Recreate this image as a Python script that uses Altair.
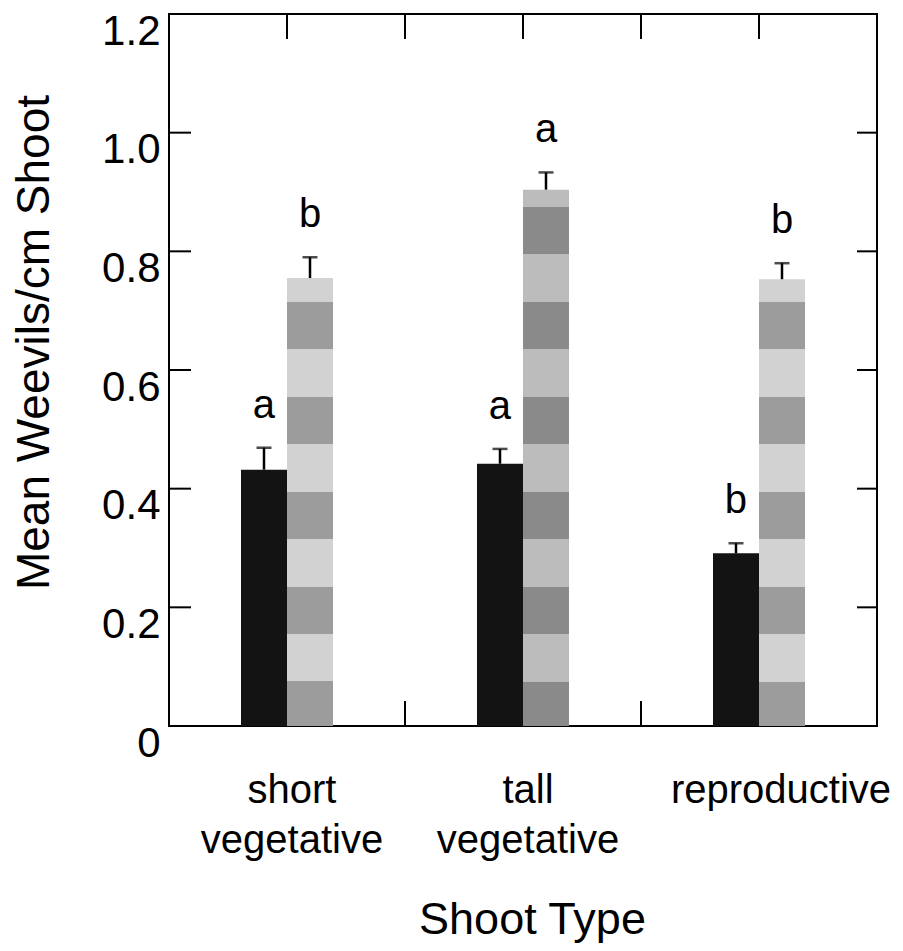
import altair as alt
import pandas as pd

# ---- data ----
categories = ["short vegetative", "tall vegetative", "reproductive"]
groups = ["black", "grey"]
black_means = [0.432, 0.442, 0.291]
black_upper = [0.469, 0.467, 0.308]
grey_means = [0.755, 0.904, 0.753]
grey_upper = [0.790, 0.933, 0.780]
black_letters = ["a", "a", "b"]
grey_letters = ["b", "a", "b"]
y_ticks = [0.2, 0.4, 0.6, 0.8, 1.0]
y_labels = [0, 0.2, 0.4, 0.6, 0.8, 1.0, 1.2]

# ---- style ----
FONT = "Liberation Sans"
W, H = 708, 712
# stripe pattern of the grey bars (value units of the dark bands)
DARK_BANDS = [(0.0, 0.075), (0.155, 0.235), (0.315, 0.395), (0.475, 0.555),
              (0.635, 0.715), (0.795, 0.875)]
GREY_COLORS = {
    "short vegetative": ("#d2d2d2", "#9c9c9c"),
    "tall vegetative": ("#bcbcbc", "#8a8a8a"),
    "reproductive": ("#d2d2d2", "#9c9c9c"),
}

rows = []
for i, c in enumerate(categories):
    rows.append(dict(cat=c, group="black", mean=black_means[i],
                     upper=black_upper[i], letter=black_letters[i]))
    rows.append(dict(cat=c, group="grey", mean=grey_means[i],
                     upper=grey_upper[i], letter=grey_letters[i]))
df = pd.DataFrame(rows)
cat_df = pd.DataFrame({"cat": categories})
tick_df = pd.DataFrame({"v": y_ticks})

x_scale = alt.Scale(domain=categories, paddingInner=0, paddingOuter=0)
# empty side slots keep the two bars adjacent and narrow in the middle of each band
xo_scale = alt.Scale(domain=["_l"] + groups + ["_r"], paddingInner=0, paddingOuter=0.565)
y_scale = alt.Scale(domain=[0, 1.2], nice=False, zero=True)

x_axis = alt.Axis(title="Shoot Type", labelAngle=0, labelLimit=0,
                  labelExpr="datum.label == 'reproductive' ? datum.label : split(datum.label, ' ')",
                  labelOffset={"condition": {"test": "datum.value == 'reproductive'", "value": 22},
                               "value": 5},
                  labelFont=FONT, labelFontSize=40, labelColor="black",
                  labelBaseline="top", labelLineHeight=50, labelPadding=44,
                  ticks=False, domain=False, grid=False,
                  titleFont=FONT, titleFontSize=45, titleFontWeight="normal",
                  titleColor="black", titleBaseline="alphabetic", titleLimit=0,
                  titleY=207, titleX=363, titleAlign="center")
y_axis = alt.Axis(title="Mean Weevils/cm Shoot", values=y_labels, labelLimit=0,
                  labelExpr="datum.value == 0 ? '0' : format(datum.value, '.1f')",
                  labelFont=FONT, labelFontSize=42, labelColor="black",
                  labelPadding=9, labelOffset=17, ticks=False, domain=False,
                  grid=False,
                  titleFont=FONT, titleFontSize=46, titleFontWeight="normal",
                  titleColor="black", titleBaseline="alphabetic", titleLimit=0,
                  titleAngle=270, titleX=-121, titleY=328, titleAlign="center")


def X(**kw):
    return alt.X("cat:N", scale=x_scale, sort=categories, axis=x_axis, **kw)


def Y(field):
    return alt.Y(field, scale=y_scale, axis=y_axis)


xo_enc = alt.XOffset("group:N", scale=xo_scale)

base = alt.Chart(df)

black_bars = base.transform_filter(alt.datum.group == "black").mark_bar(
    color="#131313").encode(x=X(), xOffset=xo_enc, y=Y("mean:Q"))


def stripe_gradient(mean, light, dark):
    def color_at(v):
        for lo, hi in DARK_BANDS:
            if lo <= v < hi:
                return dark
        return light
    bounds = sorted({b for band in DARK_BANDS for b in band if 0 < b < mean}, reverse=True)
    stops = [alt.GradientStop(color=color_at(mean - 1e-6), offset=0)]
    for b in bounds:
        t = 1 - b / mean
        stops.append(alt.GradientStop(color=color_at(b + 1e-6), offset=t))
        stops.append(alt.GradientStop(color=color_at(b - 1e-6), offset=t))
    stops.append(alt.GradientStop(color=color_at(1e-6), offset=1))
    return alt.Gradient(gradient="linear", stops=stops, x1=0, x2=0, y1=0, y2=1)


grey_layers = []
for i, c in enumerate(categories):
    light, dark = GREY_COLORS[c]
    grey_layers.append(
        base.transform_filter((alt.datum.group == "grey") & (alt.datum.cat == c))
        .mark_bar(color=stripe_gradient(grey_means[i], light, dark))
        .encode(x=X(), xOffset=xo_enc, y=Y("mean:Q"))
    )

err_rules = base.mark_rule(color="black", strokeWidth=2.5).encode(
    x=X(), xOffset=xo_enc, y=Y("mean:Q"), y2="upper:Q")
err_caps = base.mark_tick(color="black", size=15, thickness=2.5, orient="horizontal").encode(
    x=X(), xOffset=xo_enc, y=Y("upper:Q"))
letters = base.mark_text(font=FONT, fontSize=40, color="black", dy=-30,
                         baseline="alphabetic").encode(
    x=X(), xOffset=xo_enc, y=Y("upper:Q"), text="letter:N")

# inward tick marks on the frame
left_ticks = alt.Chart(tick_df).mark_rule(color="black", strokeWidth=2).encode(
    y=Y("v:Q"), x=alt.value(0), x2=alt.value(22))
right_ticks = alt.Chart(tick_df).mark_rule(color="black", strokeWidth=2).encode(
    y=Y("v:Q"), x=alt.value(W - 20), x2=alt.value(W))
top_center_ticks = alt.Chart(cat_df).mark_rule(color="black", strokeWidth=2).encode(
    x=X(), y=alt.value(0), y2=alt.value(25))
top_edge_ticks = alt.Chart(cat_df).transform_filter(
    alt.datum.cat != categories[0]).mark_rule(color="black", strokeWidth=2).encode(
    x=X(bandPosition=0), y=alt.value(0), y2=alt.value(25))
bottom_edge_ticks = alt.Chart(cat_df).transform_filter(
    alt.datum.cat != categories[0]).mark_rule(color="black", strokeWidth=2).encode(
    x=X(bandPosition=0), y=alt.value(H - 25), y2=alt.value(H))

chart = alt.layer(
    black_bars, *grey_layers, err_rules, err_caps, letters,
    left_ticks, right_ticks, top_center_ticks, top_edge_ticks, bottom_edge_ticks
).properties(
    width=W, height=H,
    autosize=alt.AutoSizeParams(type="none"),
    padding={"left": 161, "top": 6, "right": 18, "bottom": 217},
    background="white",
).configure_view(stroke="black", strokeWidth=2)

chart.save("out.html", embed_options={"renderer": "svg", "actions": False})
